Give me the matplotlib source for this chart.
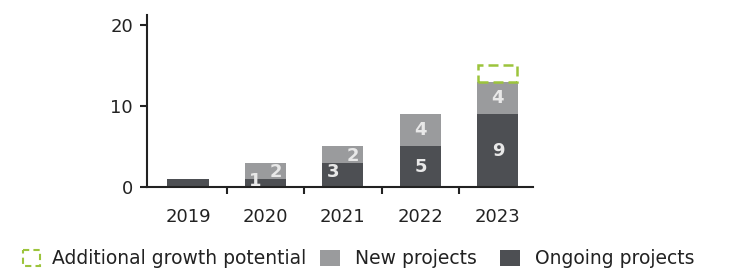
import matplotlib.pyplot as plt
from matplotlib.patches import Rectangle

years = ["2019", "2020", "2021", "2022", "2023"]
ongoing = [1, 1, 3, 5, 9]
new = [0, 2, 2, 4, 4]
growth = [0, 0, 0, 0, 2]
ongoing_labels = ["", "1", "3", "5", "9"]
new_labels = ["", "2", "2", "4", "4"]

DARK = "#4d4f53"
LIGHT = "#9a9b9d"
GREEN = "#9cc43c"
LABEL = "#e8e8e8"

plt.rcParams["font.family"] = ["DejaVu Sans"]
fig = plt.figure(figsize=(7.42, 2.72), dpi=100)
ax = fig.add_axes([0.198, 0.3125, 0.52, 0.632])

x = list(range(len(years)))
w = 0.53
ax.bar(x, ongoing, w, color=DARK, zorder=2)
ax.bar(x, new, w, bottom=ongoing, color=LIGHT, zorder=2)
bottoms = [o + n for o, n in zip(ongoing, new)]
for xi, g, b in zip(x, growth, bottoms):
    if g:
        ax.bar(xi, g, w * 0.95, bottom=b, facecolor="none", edgecolor=GREEN,
               linestyle=(0, (4, 2)), linewidth=1.8, zorder=3)

for xi, o, n, ol, nl in zip(x, ongoing, new, ongoing_labels, new_labels):
    # small segments: put the two labels side by side so they don't collide
    small = o < 2.5 or n < 2.5 and o < 4
    dx = w / 4 if small else 0
    if ol:
        ax.text(xi - dx, max(o / 2, 0.9) if not small else o / 2 + 0.3, ol,
                ha="center", va="center", color=LABEL,
                fontsize=13, fontweight="bold", zorder=4)
    if nl:
        ax.text(xi + dx, o + n / 2 if not small else o + n / 2 - 0.2, nl,
                ha="center", va="center", color=LABEL,
                fontsize=13, fontweight="bold", zorder=4)

ax.set_xlim(-0.53, 4.45)
ax.set_ylim(0, 21.2)
ax.set_yticks([0, 10, 20])
ax.set_xticks(x)
ax.set_xticklabels(years)
ax.set_xticks([0.5, 1.5, 2.5, 3.5], minor=True)
ax.tick_params(axis="x", which="major", length=0, pad=15, labelsize=13, labelcolor="#222")
ax.tick_params(axis="x", which="minor", length=5, width=1.5, direction="out", color="#222")
ax.tick_params(axis="y", length=5, width=1.5, direction="out", labelsize=13,
               labelcolor="#222", pad=5, color="#222")
for s in ["top", "right"]:
    ax.spines[s].set_visible(False)
for s in ["left", "bottom"]:
    ax.spines[s].set_linewidth(1.5)
    ax.spines[s].set_color("#222")

# legend drawn in figure coordinates
lg = fig.add_axes([0, 0, 1, 1], facecolor="none")
lg.set_xlim(0, 742)
lg.set_ylim(272, 0)
lg.axis("off")
ly = 258
lg.add_patch(Rectangle((23, ly - 8), 17, 16, facecolor="none", edgecolor=GREEN,
                       linestyle=(0, (3, 2)), linewidth=1.5))
lg.text(52, ly, "Additional growth potential", va="center", ha="left",
        fontsize=13.5, color="#222")
lg.add_patch(Rectangle((320, ly - 8), 20, 16, facecolor=LIGHT))
lg.text(355, ly, "New projects", va="center", ha="left", fontsize=13.5, color="#222")
lg.add_patch(Rectangle((500, ly - 8), 20, 16, facecolor=DARK))
lg.text(535, ly, "Ongoing projects", va="center", ha="left", fontsize=13.5, color="#222")

fig.savefig("out.png", dpi=100, facecolor="white")
